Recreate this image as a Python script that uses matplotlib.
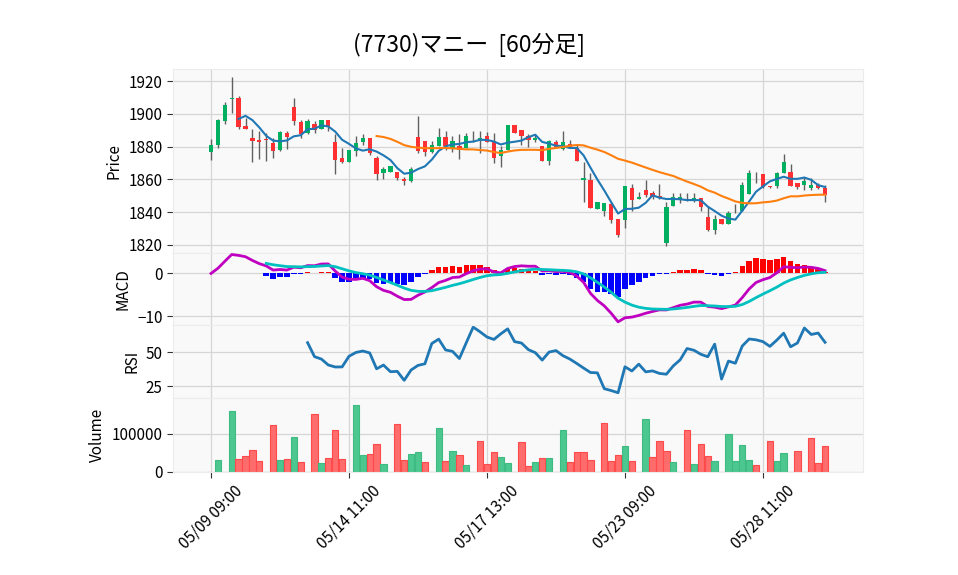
import matplotlib
matplotlib.use("Agg")
import matplotlib.pyplot as plt
import numpy as np
import pandas as pd

plt.rcParams["font.family"] = ["Noto Sans CJK JP", "DejaVu Sans"]

TITLE = "(7730)マニー  [60分足]"

# 60分足 90本 (05/09 09:00 ～ 05/29 12:00)
tick_pos = [0, 20, 40, 60, 80]
tick_labels = ["05/09 09:00", "05/14 11:00", "05/17 13:00", "05/23 09:00", "05/28 11:00"]

opens = [1876.6, 1881.2, 1895.7, 1909.3, 1909.8, 1892.4, 1885.0, 1883.8, 1884.5, 1882.0,
         1877.9, 1888.1, 1904.0, 1894.8, 1888.3, 1893.6, 1890.8, 1896.0, 1882.6, 1872.8,
         1870.5, 1877.3, 1882.8, 1885.5, 1872.8, 1863.8, 1864.4, 1864.7, 1860.1, 1859.3,
         1885.6, 1883.2, 1876.6, 1880.1, 1885.6, 1879.3, 1880.7, 1879.3, 1887.8, 1884.2,
         1886.7, 1882.8, 1874.6, 1877.7, 1893.0, 1890.0, 1886.3, 1883.8, 1880.1, 1871.1,
         1882.6, 1878.5, 1881.8, 1879.3, 1859.7, 1859.7, 1841.7, 1840.5, 1845.0, 1836.0,
         1835.5, 1854.8, 1847.8, 1853.5, 1851.5, 1850.0, 1820.9, 1843.6, 1848.0, 1848.0,
         1847.6, 1848.8, 1837.2, 1829.4, 1836.0, 1832.5, 1840.1, 1840.5, 1851.1, 1863.0,
         1863.4, 1855.8, 1855.8, 1864.0, 1864.8, 1858.0, 1856.6, 1854.6, 1856.6, 1854.8]
highs = [1884.8, 1897.0, 1907.0, 1922.6, 1911.0, 1897.5, 1891.0, 1889.3, 1888.5, 1885.5,
         1889.8, 1889.5, 1909.4, 1896.0, 1897.0, 1895.5, 1896.0, 1896.0, 1888.0, 1879.0,
         1878.0, 1886.5, 1887.5, 1885.5, 1874.6, 1867.5, 1868.3, 1864.7, 1861.5, 1867.5,
         1899.0, 1883.2, 1883.2, 1891.6, 1889.6, 1886.3, 1887.5, 1888.3, 1889.5, 1889.5,
         1888.7, 1888.3, 1880.1, 1893.0, 1893.0, 1890.0, 1888.0, 1888.0, 1880.1, 1884.2,
         1884.2, 1889.5, 1884.0, 1881.0, 1870.5, 1863.8, 1846.4, 1845.8, 1846.5, 1836.0,
         1856.0, 1857.0, 1852.5, 1859.5, 1853.0, 1857.0, 1846.0, 1852.0, 1852.0, 1852.0,
         1852.0, 1848.8, 1843.0, 1838.0, 1836.0, 1841.0, 1845.0, 1858.3, 1865.5, 1864.5,
         1863.4, 1856.2, 1864.8, 1875.6, 1869.6, 1858.0, 1861.3, 1861.0, 1858.0, 1856.5]
lows = [1872.0, 1879.3, 1894.0, 1900.5, 1890.5, 1890.5, 1870.5, 1872.7, 1871.5, 1873.2,
        1877.6, 1878.5, 1893.0, 1885.5, 1887.5, 1888.5, 1890.8, 1889.5, 1863.4, 1870.0,
        1870.5, 1874.0, 1880.8, 1875.0, 1859.7, 1860.5, 1864.4, 1859.7, 1856.8, 1858.7,
        1876.0, 1874.6, 1876.0, 1880.1, 1877.7, 1876.6, 1872.6, 1879.3, 1883.0, 1876.0,
        1882.8, 1870.1, 1867.5, 1877.7, 1888.3, 1881.0, 1880.0, 1883.0, 1871.1, 1868.9,
        1879.0, 1878.0, 1879.0, 1871.1, 1846.0, 1842.3, 1841.7, 1837.6, 1833.7, 1825.0,
        1830.6, 1840.5, 1847.8, 1849.0, 1848.0, 1848.0, 1819.5, 1843.6, 1845.5, 1846.6,
        1846.5, 1840.5, 1828.6, 1826.6, 1832.5, 1832.5, 1839.8, 1840.5, 1851.1, 1858.0,
        1855.0, 1854.8, 1855.0, 1864.0, 1856.0, 1854.2, 1853.7, 1853.7, 1854.2, 1846.4]
closes = [1881.3, 1896.5, 1905.3, 1909.6, 1892.0, 1890.7, 1883.4, 1883.0, 1884.0, 1877.3,
          1888.7, 1885.8, 1895.7, 1887.5, 1895.5, 1890.2, 1896.0, 1892.6, 1871.7, 1870.5,
          1877.7, 1882.4, 1885.5, 1876.0, 1863.4, 1866.2, 1868.3, 1860.7, 1858.9, 1866.4,
          1877.3, 1876.6, 1881.3, 1885.6, 1880.1, 1883.2, 1878.0, 1886.7, 1887.5, 1885.5,
          1882.8, 1873.2, 1877.7, 1893.0, 1888.3, 1886.3, 1883.8, 1885.0, 1871.1, 1883.2,
          1879.8, 1882.6, 1879.3, 1871.1, 1860.7, 1842.3, 1846.4, 1845.8, 1835.5, 1826.0,
          1856.0, 1847.2, 1849.1, 1850.3, 1849.1, 1848.5, 1843.3, 1849.1, 1849.5, 1846.6,
          1848.5, 1843.0, 1829.4, 1836.0, 1832.5, 1839.6, 1839.9, 1856.6, 1864.0, 1862.6,
          1855.6, 1855.3, 1864.0, 1870.7, 1856.2, 1855.6, 1859.3, 1856.8, 1854.6, 1850.5]
volumes = [0, 31600, 0, 160500, 34000, 42000, 58000, 29000, 0, 124000,
           31600, 34000, 92000, 26000, 0, 152600, 23700, 37000, 110500, 34000,
           0, 176000, 45000, 47000, 74000, 21000, 0, 126000, 31600, 47000,
           52000, 26000, 0, 116000, 29000, 55000, 45000, 18000, 0, 81000,
           21000, 52000, 39000, 24000, 0, 79000, 16000, 26000, 37000, 37000,
           0, 110000, 26000, 52000, 52000, 31600, 0, 129000, 29000, 45000,
           68000, 29000, 0, 139500, 39000, 81000, 55000, 26000, 0, 110000,
           21000, 74000, 42000, 29000, 0, 100000, 29000, 71000, 31600, 18000,
           0, 81000, 29000, 50000, 0, 55000, 0, 89500, 24000, 68000]

UP, DOWN, WICK = "#00b060", "#fe3032", "#606060"
VUP, VDOWN = "#4dc790", "#fe6c6c"
VUP_E, VDOWN_E = "#3dbb80", "#fe4a4a"
GRID = "#d6d6d6"
PANEL_BG = "#f9f9f9"
FS = 11

df = pd.DataFrame({"o": opens, "h": highs, "l": lows, "c": closes, "v": volumes})
x = np.arange(len(df))
c = df["c"]

ma5 = c.rolling(5).mean()
ma25 = c.rolling(25).mean()
ema12 = c.ewm(span=12, adjust=False).mean()
ema26 = c.ewm(span=26, adjust=False).mean()
macd = ema12 - ema26
signal = macd.ewm(span=9, adjust=False, min_periods=9).mean()
hist = macd - signal
delta = c.diff()
gain = delta.clip(lower=0).rolling(14).mean()
loss = (-delta.clip(upper=0)).rolling(14).mean()
rsi = 100 * gain / (gain + loss)

W, H = 958, 575
fig = plt.figure(figsize=(W / 100, H / 100), dpi=100)
left, width = 173 / W, 690 / W


def rect(top, bottom):
    return [left, 1 - bottom / H, width, (bottom - top) / H]


ax_p = fig.add_axes(rect(69, 253))
ax_m = fig.add_axes(rect(253, 325), sharex=ax_p)
ax_r = fig.add_axes(rect(325, 398), sharex=ax_p)
ax_v = fig.add_axes(rect(398, 472), sharex=ax_p)
axes = [ax_p, ax_m, ax_r, ax_v]

for ax in axes:
    ax.set_facecolor(PANEL_BG)
    ax.grid(True, color=GRID, linewidth=0.9)
    ax.set_axisbelow(True)
    for s in ax.spines.values():
        s.set_color("#ececec")
    ax.tick_params(axis="y", labelsize=FS, length=4, color="#333333")
    ax.tick_params(axis="x", length=0, labelbottom=False)
    ax.set_xticks(tick_pos)

# ローソク足
up = df["c"] >= df["o"]
colors = np.where(up, UP, DOWN)
ax_p.vlines(x, df["l"], df["h"], color=WICK, linewidth=1, zorder=2)
body_lo = np.minimum(df["o"], df["c"])
body_h = np.maximum((df["c"] - df["o"]).abs(), 0.4)
ax_p.bar(x, body_h, bottom=body_lo, width=0.62, color=colors, linewidth=0, zorder=3)
ax_p.plot(x, ma5, color="#1f77b4", linewidth=1.5, zorder=4)
ax_p.plot(x, ma25, color="#ff7f0e", linewidth=1.5, zorder=4)
ax_p.set_ylim(1815.1, 1927.4)
ax_p.set_yticks([1820, 1840, 1860, 1880, 1900, 1920])
ax_p.set_ylabel("Price", fontsize=FS)

# MACD
hcol = np.where(hist >= 0, "#ff0000", "#0000ff")
ax_m.bar(x, hist, width=0.8, color=hcol, linewidth=0, zorder=2)
ax_m.plot(x, macd, color="#c000c0", linewidth=2, zorder=3)
ax_m.plot(x, signal, color="#00c0c0", linewidth=2, zorder=3)
ax_m.set_ylim(-12.1, 4.8)
ax_m.set_yticks([-10, 0])
ax_m.set_ylabel("MACD", fontsize=FS)

# RSI
ax_r.plot(x, rsi, color="#1f77b4", linewidth=2)
ax_r.set_ylim(16.2, 69.9)
ax_r.set_yticks([25, 50])
ax_r.set_ylabel("RSI", fontsize=FS)

# 出来高 (前足終値比で色分け)
prev = df["c"].shift(1)
vup = (df["c"] >= prev).to_numpy()
ax_v.bar(x, df["v"], width=0.92, color=np.where(vup, VUP, VDOWN),
         edgecolor=np.where(vup, VUP_E, VDOWN_E), linewidth=0.8, zorder=2)
ax_v.set_ylim(0, 194700)
ax_v.set_yticks([0, 100000])
ax_v.set_yticklabels(["0", "100000"])
ax_v.set_ylabel("Volume", fontsize=FS)
ax_v.tick_params(axis="x", length=4, labelbottom=True, color="#333333", labelsize=FS)
ax_v.set_xticklabels(tick_labels, rotation=45, ha="center")

ax_p.set_xlim(-5.51, 94.5)

fig.text(469 / W, 1 - 45 / H, TITLE, ha="center", va="center", fontsize=16.5)

plt.savefig("out.png", dpi=100)
plt.close()
